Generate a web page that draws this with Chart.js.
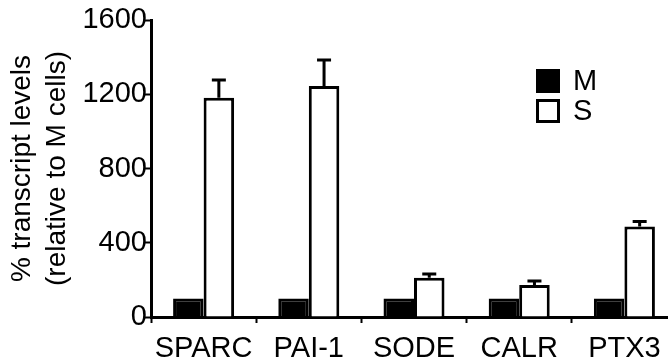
<!DOCTYPE html>
<html>
<head>
<meta charset="utf-8">
<script src="https://cdn.jsdelivr.net/npm/chart.js@4.4.0/dist/chart.umd.min.js"></script>
<style>
  html, body { margin: 0; padding: 0; background: #fff; overflow: hidden; }
  #chart { display: block; }
</style>
</head>
<body>
<canvas id="chart" width="690" height="363"></canvas>
<script>
// ── Data ──────────────────────────────────────────────────────
const categories = ['SPARC', 'PAI-1', 'SODE', 'CALR', 'PTX3'];
const mValues = [100, 100, 100, 100, 100];
const sValues = [1181, 1244, 212, 172, 487];
const sErrors = [96, 141, 20, 22, 27];
const yTickLabels = [0, 400, 800, 1200, 1600];

const FONT = "'Liberation Sans', Arial, sans-serif";

// ── Error bars (upper only) ───────────────────────────────────
const errorBars = {
  id: 'errorBars',
  afterDatasetsDraw(chart) {
    const { ctx } = chart;
    const yScale = chart.scales.y;
    chart.data.datasets.forEach((ds, di) => {
      if (!ds.errors) return;
      const meta = chart.getDatasetMeta(di);
      meta.data.forEach((bar, i) => {
        const top = yScale.getPixelForValue(ds.data[i] + ds.errors[i]);
        ctx.save();
        ctx.strokeStyle = '#000';
        ctx.lineWidth = 3;
        ctx.beginPath();
        ctx.moveTo(bar.x, bar.y);
        ctx.lineTo(bar.x, top);
        ctx.moveTo(bar.x - 7, top);
        ctx.lineTo(bar.x + 7, top);
        ctx.stroke();
        ctx.restore();
      });
    });
  }
};

// ── Legend drawn inside the plot ──────────────────────────────
const boxLegend = {
  id: 'boxLegend',
  afterDraw(chart, args, opts) {
    const { ctx } = chart;
    chart.data.datasets.forEach((ds, i) => {
      const y = opts.y + i * opts.gap;
      ctx.save();
      ctx.fillStyle = ds.backgroundColor;
      ctx.fillRect(opts.x, y, opts.size, opts.size);
      ctx.strokeStyle = '#000';
      ctx.lineWidth = 3;
      ctx.strokeRect(opts.x + 1.5, y + 1.5, opts.size - 3, opts.size - 3);
      ctx.fillStyle = '#000';
      ctx.font = `29px ${FONT}`;
      ctx.textBaseline = 'middle';
      ctx.fillText(ds.label, opts.textX, y + opts.size / 2 + 1);
      ctx.restore();
    });
  }
};

new Chart(document.getElementById('chart'), {
  type: 'bar',
  data: {
    labels: categories,
    datasets: [
      {
        label: 'M',
        data: mValues,
        backgroundColor: '#000',
        borderColor: '#000',
        borderWidth: 3
      },
      {
        label: 'S',
        data: sValues,
        errors: sErrors,
        backgroundColor: '#fff',
        borderColor: '#000',
        borderWidth: 3
      }
    ]
  },
  options: {
    responsive: false,
    animation: false,
    layout: { padding: { top: 20, right: 13, left: 0, bottom: 0 } },
    datasets: {
      bar: { categoryPercentage: 0.58, barPercentage: 1.0 }
    },
    plugins: {
      legend: { display: false },
      tooltip: { enabled: false },
      boxLegend: { x: 536, y: 69, size: 24, gap: 30, textX: 573 }
    },
    scales: {
      x: {
        grid: {
          offset: true,
          drawOnChartArea: false,
          drawTicks: true,
          tickLength: 6,
          tickWidth: 2,
          tickColor: '#000'
        },
        border: { display: true, color: '#000', width: 3 },
        ticks: {
          color: '#000',
          font: { family: FONT, size: 29 },
          padding: 9,
          maxRotation: 0,
          autoSkip: false
        },
        afterFit(scale) { scale.height = 46; }
      },
      y: {
        min: 0,
        max: 1600,
        grid: {
          drawOnChartArea: false,
          drawTicks: true,
          tickLength: 6,
          tickWidth: 2,
          tickColor: '#000'
        },
        border: { display: true, color: '#000', width: 3 },
        ticks: {
          stepSize: 200,
          color: '#000',
          font: { family: FONT, size: 29 },
          padding: -2,
          callback: v => yTickLabels.includes(v) ? String(v) : ''
        },
        title: {
          display: true,
          text: ['% transcript levels', '(relative to M cells)'],
          color: '#000',
          font: { family: FONT, size: 28, lineHeight: 1.25 },
          padding: { top: 5, bottom: 0 }
        },
        afterFit(scale) { scale.width = 151; }
      }
    }
  },
  plugins: [errorBars, boxLegend]
});
</script>
</body>
</html>
